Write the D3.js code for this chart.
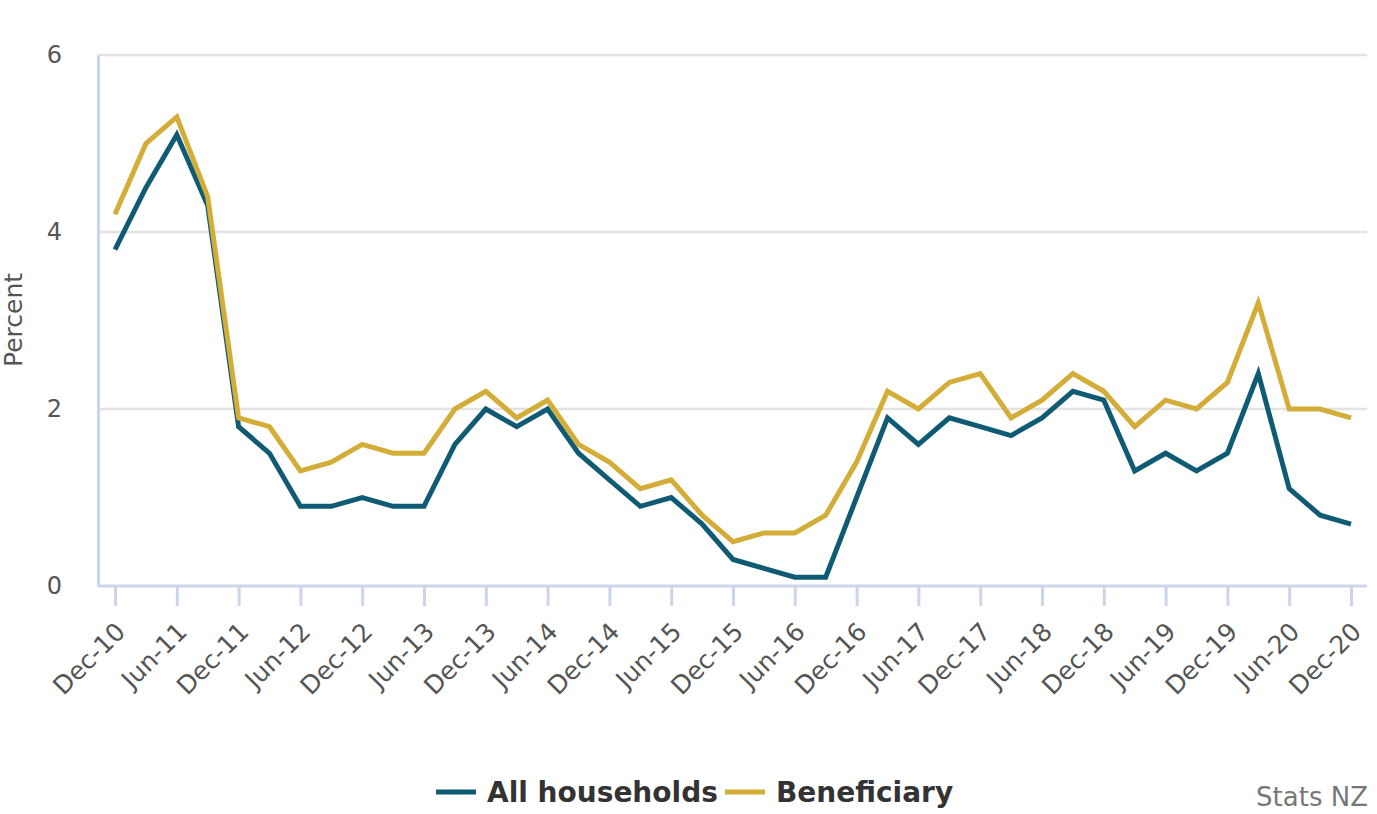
<!DOCTYPE HTML>
<html>
<head>
  <style>
    body { margin: 0px; padding: 0px; background: #fff; }
    text { font-family: "DejaVu Sans", sans-serif; }
  </style>
</head>
<body>
  <div id="chart"></div>
  <script src="https://d3js.org/d3.v7.min.js"></script>
  <script>
    // quarterly, Dec-10 .. Dec-20
    var quarters = [
      'Dec-10','Mar-11','Jun-11','Sep-11','Dec-11','Mar-12','Jun-12','Sep-12','Dec-12','Mar-13',
      'Jun-13','Sep-13','Dec-13','Mar-14','Jun-14','Sep-14','Dec-14','Mar-15','Jun-15','Sep-15',
      'Dec-15','Mar-16','Jun-16','Sep-16','Dec-16','Mar-17','Jun-17','Sep-17','Dec-17','Mar-18',
      'Jun-18','Sep-18','Dec-18','Mar-19','Jun-19','Sep-19','Dec-19','Mar-20','Jun-20','Sep-20','Dec-20'
    ];
    var allHouseholds = [
      3.8, 4.5, 5.1, 4.3, 1.8, 1.5, 0.9, 0.9, 1.0, 0.9,
      0.9, 1.6, 2.0, 1.8, 2.0, 1.5, 1.2, 0.9, 1.0, 0.7,
      0.3, 0.2, 0.1, 0.1, 1.0, 1.9, 1.6, 1.9, 1.8, 1.7,
      1.9, 2.2, 2.1, 1.3, 1.5, 1.3, 1.5, 2.4, 1.1, 0.8, 0.7
    ];
    var beneficiary = [
      4.2, 5.0, 5.3, 4.4, 1.9, 1.8, 1.3, 1.4, 1.6, 1.5,
      1.5, 2.0, 2.2, 1.9, 2.1, 1.6, 1.4, 1.1, 1.2, 0.8,
      0.5, 0.6, 0.6, 0.8, 1.4, 2.2, 2.0, 2.3, 2.4, 1.9,
      2.1, 2.4, 2.2, 1.8, 2.1, 2.0, 2.3, 3.2, 2.0, 2.0, 1.9
    ];
    var yTicks = [0, 2, 4, 6];
    var seriesNames = ['All households', 'Beneficiary'];
    var seriesColors = ['#0f5b73', '#d4ad38'];

    var width = 1377, height = 814;
    var plotLeft = 98, plotRight = 1367, plotTop = 55, plotBottom = 586;

    var svg = d3.select('#chart').append('svg')
      .attr('width', width).attr('height', height);

    var x = d3.scaleLinear().domain([0, quarters.length - 1]).range([115, 1351]);
    var y = d3.scaleLinear().domain([0, 6]).range([plotBottom, plotTop]);

    // gridlines
    svg.append('g').selectAll('line')
      .data(yTicks.filter(function(d) { return d > 0; }))
      .enter().append('line')
      .attr('x1', plotLeft).attr('x2', plotRight)
      .attr('y1', function(d) { return y(d); })
      .attr('y2', function(d) { return y(d); })
      .style('stroke', '#e3e3e3').style('stroke-width', 2.5);

    // y axis
    var yAxis = svg.append('g')
      .attr('transform', 'translate(' + plotLeft + ',0)')
      .call(d3.axisLeft(y).tickValues(yTicks).tickFormat(d3.format('d')).tickSize(0).tickPadding(36));
    yAxis.select('.domain').style('stroke', '#ccd6eb').style('stroke-width', 3);
    yAxis.selectAll('text').style('font-size', '24px').style('fill', '#555');

    // x axis
    var tickIdx = quarters.map(function(q, i) { return i; }).filter(function(i) { return i % 2 === 0; });
    var xAxis = svg.append('g')
      .attr('transform', 'translate(0,' + plotBottom + ')')
      .call(d3.axisBottom(x).tickValues(tickIdx).tickSize(20).tickSizeOuter(0)
        .tickFormat(function(i) { return quarters[i]; }));
    xAxis.select('.domain').attr('d', 'M' + plotLeft + ',0H' + plotRight)
      .style('stroke', '#ccd6eb').style('stroke-width', 3);
    xAxis.selectAll('.tick line').style('stroke', '#ccd6eb').style('stroke-width', 3);
    xAxis.selectAll('text')
      .style('font-size', '25px').style('fill', '#555')
      .attr('text-anchor', 'end')
      .attr('x', 0).attr('y', 0)
      .attr('dy', '0.35em')
      .attr('transform', 'translate(5,41) rotate(-45)');

    // axis title
    svg.append('text')
      .attr('transform', 'translate(22,320) rotate(-90)')
      .attr('text-anchor', 'middle')
      .style('font-size', '25px').style('fill', '#555')
      .text('Percent');

    // lines
    var line = d3.line()
      .x(function(d, i) { return x(i); })
      .y(function(d) { return y(d); });
    [allHouseholds, beneficiary].forEach(function(s, k) {
      svg.append('path')
        .datum(s)
        .attr('d', line)
        .style('fill', 'none')
        .style('stroke', seriesColors[k])
        .style('stroke-width', 5)
        .style('stroke-linejoin', 'miter');
    });

    // legend
    var legendX = [436, 725];
    var legend = svg.append('g').selectAll('g')
      .data(seriesNames).enter().append('g')
      .attr('transform', function(d, i) { return 'translate(' + legendX[i] + ',792)'; });
    legend.append('line')
      .attr('x1', 0).attr('x2', 40).attr('y1', 0).attr('y2', 0)
      .style('stroke', function(d, i) { return seriesColors[i]; })
      .style('stroke-width', 5);
    legend.append('text')
      .attr('x', 51).attr('y', 0).attr('dy', '0.35em')
      .style('font-size', '28px').style('font-weight', 'bold').style('fill', '#333')
      .text(function(d) { return d; });

    // credit
    svg.append('text')
      .attr('x', 1368).attr('y', 806)
      .attr('text-anchor', 'end')
      .style('font-size', '26px').style('fill', '#777')
      .text('Stats NZ');
  </script>
</body>
</html>
